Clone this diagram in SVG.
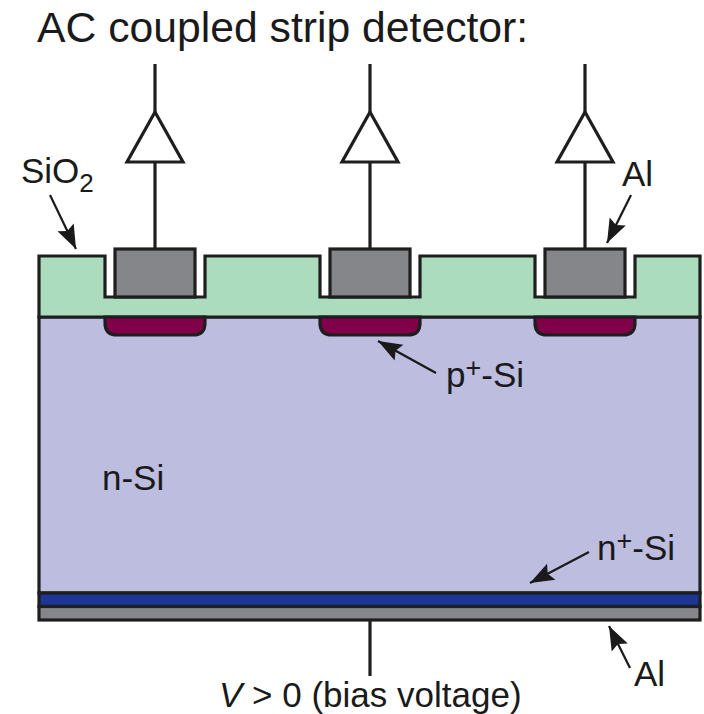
<svg xmlns="http://www.w3.org/2000/svg" width="704" height="714" viewBox="0 0 704 714">
<style>
text{font-family:"Liberation Sans",Arial,sans-serif;fill:#1a1a1a}
.l{font-size:35px}
.o{stroke:#1e1e1e;stroke-width:3.2;stroke-linejoin:miter}
.w{stroke:#1e1e1e;stroke-width:3.2;fill:none}
.a{stroke:#1a1a1a;stroke-width:2.2;fill:none;marker-end:url(#ah)}
.m{fill:#848689}
.i{fill:#80004a}
.amp{fill:#fff;stroke:#1e1e1e;stroke-width:3.2}
</style>
<defs>
<marker id="ah" markerUnits="userSpaceOnUse" markerWidth="30" markerHeight="20" refX="26" refY="10" orient="auto">
<path d="M2 1L26 10L2 19L6 10Z" fill="#1a1a1a"/>
</marker>
</defs>
<rect width="704" height="714" fill="#fff"/>
<text x="37" y="41.500" font-size="42.700" id="title">AC coupled strip detector:</text>
<g id="n-si"><rect class="o" x="39" y="317" width="661" height="276" fill="#bdbde0"/></g>
<g id="sio2"><path class="o" fill="#abdcbe" d="M39 317V256H105V297H205V256H320V297H420V256H535V297H635V256H700V317Z"/></g>
<g id="implant-1"><path class="o i" d="M105 317V323Q105 335 117 335H193Q205 335 205 323V317Z"/></g>
<g id="implant-2"><path class="o i" d="M320 317V323Q320 335 332 335H408Q420 335 420 323V317Z"/></g>
<g id="implant-3"><path class="o i" d="M535 317V323Q535 335 547 335H623Q635 335 635 323V317Z"/></g>
<g id="metal-1"><rect class="o m" x="115" y="249" width="80" height="48"/></g>
<g id="metal-2"><rect class="o m" x="330" y="249" width="80" height="48"/></g>
<g id="metal-3"><rect class="o m" x="545" y="249" width="80" height="48"/></g>
<g id="nplus"><rect class="o" x="39" y="593" width="661" height="13.500" fill="#1c3596"/></g>
<g id="al-back"><rect class="o m" x="39" y="606.500" width="661" height="13.500"/></g>
<g id="amp-1"><path class="amp" d="M155 112L183 162H127Z"/></g>
<g id="amp-2"><path class="amp" d="M370 112L398 162H342Z"/></g>
<g id="amp-3"><path class="amp" d="M585 112L613 162H557Z"/></g>
<g id="connectors">
<path class="w" d="M155 64V112M155 162V249M370 64V112M370 162V249M585 64V112M585 162V249M370 620V676"/>
<path class="a" d="M50 195L76 249"/>
<path class="a" d="M631 195L607 243"/>
<path class="a" d="M436 373L378 341"/>
<path class="a" d="M589 552L530 583"/>
<path class="a" d="M630 668L609 626"/>
</g>
<g id="labels">
<text class="l" x="21" y="183">SiO<tspan font-size="26" dy="9">2</tspan></text>
<text class="l" x="622" y="186">Al</text>
<text class="l" x="446" y="387">p<tspan font-size="27" dy="-10">+</tspan><tspan dy="10">-Si</tspan></text>
<text class="l" x="102" y="490">n-Si</text>
<text class="l" x="597" y="560">n<tspan font-size="27" dy="-10">+</tspan><tspan dy="10">-Si</tspan></text>
<text class="l" x="634" y="686">Al</text>
<text class="l" x="219" y="707"><tspan font-style="italic">V</tspan> &gt; 0 (bias voltage)</text>
</g>
</svg>
